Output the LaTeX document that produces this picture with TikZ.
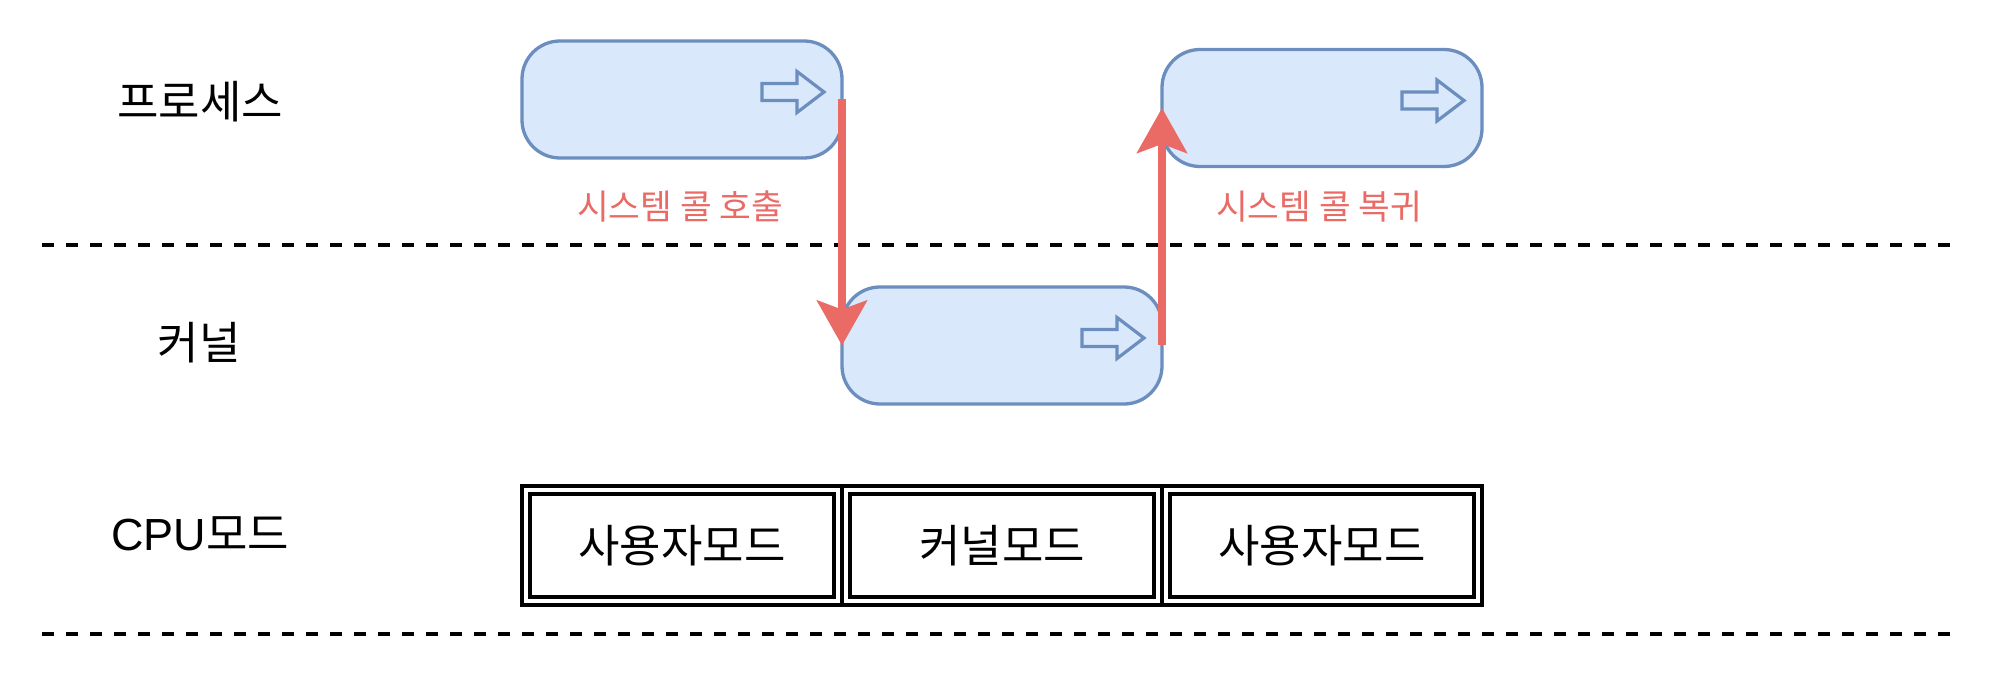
\documentclass[tikz,border=0pt]{standalone}
\usepackage{fontspec}
\setmainfont{Noto Sans CJK KR}
\newfontfamily\latinsans{Liberation Sans}
\usetikzlibrary{arrows.meta,calc}
\definecolor{boxfill}{HTML}{DAE8FC}
\definecolor{boxline}{HTML}{6C8EBF}
\definecolor{callred}{HTML}{EA6B66}
\begin{document}
\begin{tikzpicture}[x=1pt,y=-1pt,
  lanelabel/.style={font=\fontsize{45pt}{52pt}\selectfont, text=black, inner sep=0pt},
  calllabel/.style={font=\fontsize{34.5pt}{40pt}\selectfont, text=callred, inner sep=0pt},
  runbox/.style={draw=boxline, fill=boxfill, line width=3.3pt, rounded corners=38pt,
    minimum width=320pt, minimum height=117pt, outer sep=0pt, inner sep=0pt},
  modebox/.style={draw=black, double=white, double distance=3.5pt, line width=4.5pt,
    minimum width=312pt, minimum height=111pt, outer sep=0pt, inner sep=0pt,
    font=\fontsize{45pt}{52pt}\selectfont},
  sep/.style={draw=black, line width=3.5pt, dash pattern=on 12pt off 12pt},
  blockarr/.style={draw=boxline, line width=3.2pt, line join=miter},
  callarrow/.style={draw=callred, line width=7.5pt,
    -{Stealth[length=45pt, width=50pt, inset=9pt, fill=callred]}}
]
\useasboundingbox (0,0) rectangle (2012,684);

% separators
\coordinate (s1a) at (42,245);
\coordinate (s1b) at (1950,245);
\coordinate (s2a) at (42,634);
\coordinate (s2b) at (1950,634);
\draw[sep] (s1a) -- (s1b);
\draw[sep] (s2a) -- (s2b);

% lane labels
\node[lanelabel] (lp) at (200,102) {프로세스};
\node[lanelabel] (lk) at (199,343) {커널};
\node[lanelabel] (lc) at (200,534) {{\latinsans CPU}모드};

% running boxes
\node[runbox] (p1) at (682,99.5) {};
\node[runbox] (k1) at (1002,345.5) {};
\node[runbox] (p2) at (1322,108) {};

% block arrows inside boxes
\foreach \b in {p1,k1,p2}{
  \begin{scope}[shift={($(\b.east)+(-18,-7.5)$)}]
    \draw[blockarr] (0,0) -- (-27,-20.5) -- (-27,-8.5) -- (-62,-8.5) -- (-62,8.5)
      -- (-27,8.5) -- (-27,20.5) -- cycle;
  \end{scope}
}

% call labels
\node[calllabel] (lcall) at (680,207) {시스템 콜 호출};
\node[calllabel] (lret) at (1319,207) {시스템 콜 복귀};

% system call arrows
\draw[callarrow] (p1.east) -- (k1.west);
\draw[callarrow] (k1.east) -- (p2.west);

% CPU mode boxes
\node[modebox] (m1) at (682,545.5) {사용자모드};
\node[modebox] (m2) at (1002,545.5) {커널모드};
\node[modebox] (m3) at (1322,545.5) {사용자모드};
\end{tikzpicture}
\end{document}
